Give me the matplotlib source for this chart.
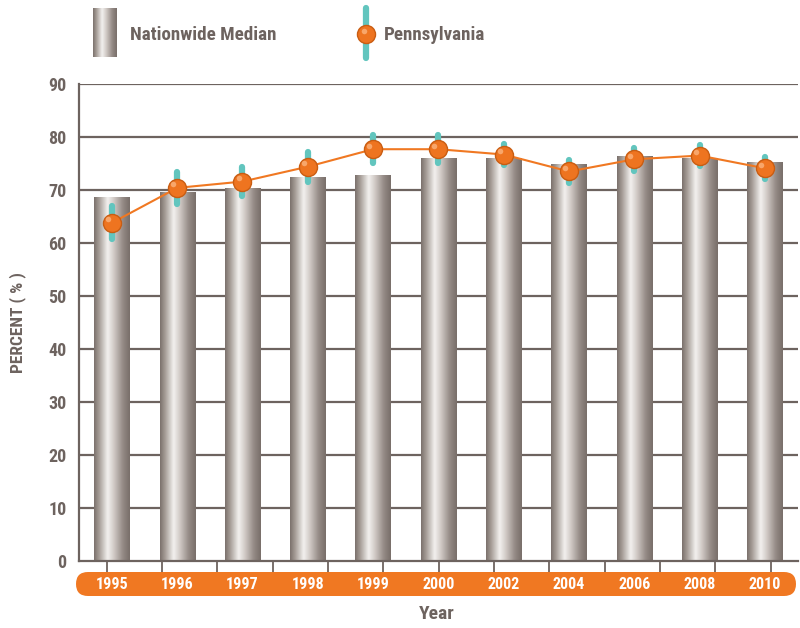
import numpy as np
import matplotlib
matplotlib.use("Agg")
import matplotlib.pyplot as plt
from matplotlib.colors import LinearSegmentedColormap
from matplotlib.patches import FancyBboxPatch
from matplotlib.transforms import IdentityTransform, blended_transform_factory

# Data
years = ["1995", "1996", "1997", "1998", "1999", "2000", "2002", "2004", "2006", "2008", "2010"]
nationwide = [68.5, 69.5, 70.3, 72.3, 72.8, 75.9, 76.0, 74.8, 76.4, 76.0, 75.1]
pennsylvania = [63.8, 70.4, 71.6, 74.4, 77.7, 77.7, 76.7, 73.5, 75.8, 76.5, 74.1]
pa_error = [3.1, 3.0, 2.8, 2.8, 2.6, 2.6, 2.05, 2.1, 2.2, 2.05, 2.05]

text_col = "#6d635f"
orange = "#f07822"
teal = "#62c5be"
plt.rcParams["font.family"] = ["Roboto Condensed", "DejaVu Sans Condensed",
                               "Liberation Sans Narrow", "Roboto", "DejaVu Sans"]

metal = LinearSegmentedColormap.from_list(
    "metal", [(0, "#7a706b"), (0.15, "#a89f99"), (0.38, "#f3f1ef"), (0.55, "#d2cbc7"),
              (0.8, "#958b86"), (1, "#786e69")])
grad = np.linspace(0, 1, 256).reshape(1, -1)

fig = plt.figure(figsize=(8, 6.28), dpi=100)
ax = fig.add_axes([0.099, 0.1067, 0.898, 0.7595])

x = np.arange(len(years))
w = 0.54

# gridlines
for v in range(10, 100, 10):
    ax.axhline(v, color=text_col, lw=1.6, zorder=1)

# metallic bars
for xi, h in zip(x, nationwide):
    ax.imshow(grad, cmap=metal, aspect="auto", extent=[xi - w / 2, xi + w / 2, 0, h],
              zorder=2, interpolation="bicubic")
ax.set_xlim(-0.5, 10.5)
ax.set_ylim(0, 90)

# Pennsylvania line, error bars, markers
ax.plot(x, pennsylvania, color=orange, lw=1.5, zorder=3)
vl = ax.vlines(x, np.array(pennsylvania) - np.array(pa_error),
               np.array(pennsylvania) + np.array(pa_error), colors=teal, lw=4.5, zorder=4)
vl.set_capstyle("round")
ax.plot(x, pennsylvania, "o", ms=13, color="#ee7420", mec="#c95d12", mew=1.0, zorder=5)
ax.plot(x - 0.06, np.array(pennsylvania) + 0.7, "o", ms=4, color="#f8a66a", mew=0, zorder=6)

# axes styling
for s in ["top", "right"]:
    ax.spines[s].set_visible(False)
for s in ["left", "bottom"]:
    ax.spines[s].set_color(text_col)
    ax.spines[s].set_linewidth(1.6)
ax.set_yticks(range(0, 100, 10))
ax.set_yticklabels([str(v) for v in range(0, 100, 10)], fontsize=13, fontweight="bold",
                   color=text_col)
ax.tick_params(axis="y", length=0, pad=9)
ax.set_xticks(np.linspace(-0.08, 10.09, 13))
ax.set_xticklabels([])
ax.tick_params(axis="x", length=8, width=1.3, color=text_col, direction="out")

# orange year band
band = FancyBboxPatch((76, 628 - 596), 720, 24, boxstyle="round,pad=0,rounding_size=12",
                      transform=IdentityTransform(), facecolor=orange, edgecolor="none",
                      zorder=-1)
fig.add_artist(band)
tr = blended_transform_factory(ax.transData, ax.transAxes)
for xi, lab in zip(x, years):
    ax.text(xi, -0.049, lab, transform=tr, ha="center", va="center", color="white",
            fontsize=11.5, fontweight="bold", clip_on=False, zorder=10)

ax.set_ylabel("PERCENT ( % )", fontsize=12.5, fontweight="bold", color=text_col, labelpad=16)
fig.text(437 / 800, 1 - 614 / 628, "Year", ha="center", va="center", fontsize=14,
         fontweight="bold", color=text_col)

# legend
lax = fig.add_axes([0, 0.87, 1, 0.13])
lax.axis("off")
lax.imshow(grad, cmap=metal, aspect="auto", extent=[93, 117, 628 - 57, 628 - 8],
           interpolation="bicubic")
lax.set_xlim(0, 800)
lax.set_ylim(628 - 628 * 0.13, 628)
lax.text(130, 628 - 35, "Nationwide Median", va="center", ha="left", fontsize=13.7,
         fontweight="bold", color=text_col)
ll = lax.vlines([366], 628 - 58, 628 - 8, colors=teal, lw=4.5)
ll.set_capstyle("round")
lax.plot([366], [628 - 34], "o", ms=13, color="#ee7420", mec="#c95d12", mew=1.0)
lax.plot([364], [628 - 31], "o", ms=4, color="#f8a66a", mew=0)
lax.text(384, 628 - 35, "Pennsylvania", va="center", ha="left", fontsize=13.7,
         fontweight="bold", color=text_col)

fig.savefig("out.png", dpi=100)
